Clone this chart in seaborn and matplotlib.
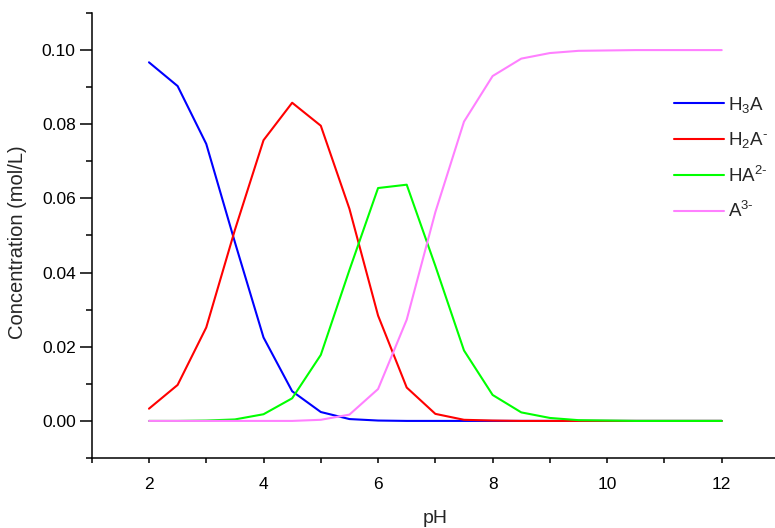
import matplotlib
matplotlib.use("Agg")
import matplotlib.pyplot as plt
import seaborn as sns
import pandas as pd
from matplotlib.ticker import MultipleLocator, FormatStrFormatter

# ---- data ----
ph = [2.0, 2.5, 3.0, 3.5, 4.0, 4.5, 5.0, 5.5, 6.0, 6.5, 7.0,
      7.5, 8.0, 8.5, 9.0, 9.5, 10.0, 10.5, 11.0, 11.5, 12.0]
h3a = [0.0967, 0.0903, 0.0747, 0.0482, 0.0225, 0.0080, 0.0024, 0.0005, 0.0001, 0.0, 0.0,
       0.0, 0.0, 0.0, 0.0, 0.0, 0.0, 0.0, 0.0, 0.0, 0.0]
h2a = [0.0033, 0.0097, 0.0252, 0.0515, 0.0757, 0.0858, 0.0796, 0.0572, 0.0284, 0.0090, 0.0019,
       0.0003, 0.0001, 0.0, 0.0, 0.0, 0.0, 0.0, 0.0, 0.0, 0.0]
ha = [0.0, 0.0, 0.0001, 0.0004, 0.0018, 0.0061, 0.0178, 0.0407, 0.0628, 0.0637, 0.0418,
      0.0190, 0.0070, 0.0023, 0.0008, 0.0002, 0.0001, 0.0, 0.0, 0.0, 0.0]
a = [0.0, 0.0, 0.0, 0.0, 0.0, 0.0, 0.0003, 0.0017, 0.0086, 0.0273, 0.0563,
     0.0807, 0.0930, 0.0977, 0.0992, 0.0998, 0.0999, 0.1, 0.1, 0.1, 0.1]

species = ["H$_3$A", "H$_2$A$^{\u2010}$", "HA$^{2\u2010}$", "A$^{3\u2010}$"]
colors = ["#0000FF", "#FF0000", "#00FF00", "#FF80FF"]
x_ticks = [2, 4, 6, 8, 10, 12]
y_ticks = [0.00, 0.02, 0.04, 0.06, 0.08, 0.10]

frames = []
for name, vals in zip(species, [h3a, h2a, ha, a]):
    frames.append(pd.DataFrame({"pH": ph, "conc": vals, "species": name}))
df = pd.concat(frames, ignore_index=True)

sns.set_style("ticks")
plt.rcParams["font.family"] = ["Liberation Sans", "DejaVu Sans"]
plt.rcParams["mathtext.fontset"] = "custom"
plt.rcParams["mathtext.rm"] = "Liberation Sans"
plt.rcParams["mathtext.it"] = "Liberation Sans"
plt.rcParams["mathtext.default"] = "regular"

fig = plt.figure(figsize=(7.75, 5.28), dpi=100)
ax = fig.add_axes([91.7 / 775, 1 - 458 / 528, 687.3 / 775, 445 / 528])

sns.lineplot(data=df, x="pH", y="conc", hue="species", hue_order=species,
             palette=dict(zip(species, colors)), linewidth=1.5, ax=ax,
             legend=True, estimator=None, sort=False)

ax.set_xlim(1, 13)
ax.set_ylim(-0.01, 0.11)
ax.set_xticks(x_ticks)
ax.set_yticks(y_ticks)
ax.xaxis.set_minor_locator(MultipleLocator(1))
ax.yaxis.set_minor_locator(MultipleLocator(0.01))
ax.yaxis.set_major_formatter(FormatStrFormatter("%.2f"))

for side in ["top", "right"]:
    ax.spines[side].set_visible(False)
for side in ["left", "bottom"]:
    ax.spines[side].set_linewidth(1.1)
    ax.spines[side].set_color("black")

ax.tick_params(axis="y", which="major", direction="out", length=8.5, width=1.1,
               labelsize=12.5, colors="black", pad=3)
ax.tick_params(axis="y", which="minor", direction="out", length=4.5, width=1.1, colors="black")
ax.tick_params(axis="x", which="major", direction="out", length=3.6, width=1.1,
               labelsize=12.5, colors="black", pad=10)
ax.tick_params(axis="x", which="minor", direction="out", length=3.6, width=1.1, colors="black")

ax.set_xlabel("pH", fontsize=14, labelpad=13)
ax.set_ylabel("Concentration (mol/L)", fontsize=14.5)
ax.yaxis.set_label_coords(-0.094, 0.485)

handles, labels = ax.get_legend_handles_labels()
leg = ax.legend(handles, labels, loc="upper left", frameon=False,
                bbox_to_anchor=(674 / 775, 1 - 95 / 528), bbox_transform=fig.transFigure,
                borderaxespad=0, borderpad=0, fontsize=13.5, handlelength=2.65,
                handletextpad=0.25, labelspacing=0.82)
for line in leg.get_lines():
    line.set_linewidth(1.5)

fig.savefig("out.png", dpi=100)
